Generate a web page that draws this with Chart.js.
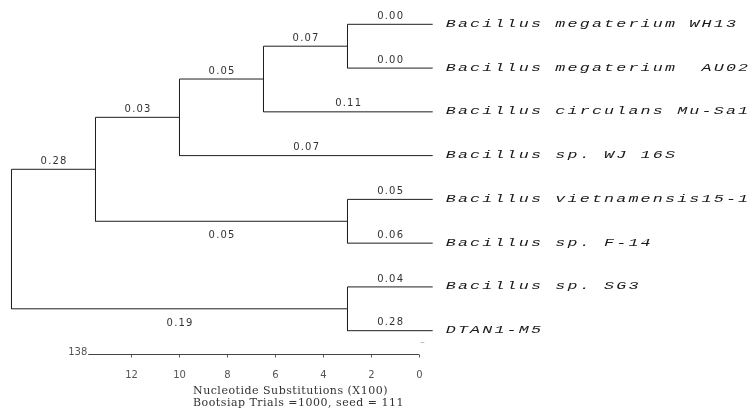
<!DOCTYPE html>
<html>
<head>
<meta charset="utf-8">
<script src="https://cdn.jsdelivr.net/npm/chart.js@4.4.1/dist/chart.umd.min.js"></script>
<style>
  html, body { margin: 0; padding: 0; background: #fff; }
  #wrap { width: 755px; height: 412px; }
</style>
</head>
<body>
<div id="wrap"><canvas id="treeChart"></canvas></div>
<script>
// tree: internal nodes first, then the leaves from top to bottom
const nodeIds = ['root', 'n1', 'n2', 'n3', 'n4', 'n5', 'n6',
  'L1', 'L2', 'L3', 'L4', 'L5', 'L6', 'L7', 'L8'];
const parentIds = [null, 'root', 'n1', 'n2', 'n3', 'n1', 'root',
  'n4', 'n4', 'n3', 'n2', 'n5', 'n5', 'n6', 'n6'];
// node depth in scale-bar units (0 = right end of the bar)
const nodeDepth = [17.0, 13.5, 10.0, 6.5, 3.0, 3.0, 3.0,
  -0.55, -0.55, -0.55, -0.55, -0.55, -0.55, -0.55, -0.55];
const branchLabels = [null, '0.28', '0.03', '0.05', '0.07', '0.05', '0.19',
  '0.00', '0.00', '0.11', '0.07', '0.05', '0.06', '0.04', '0.28'];
const leafNames = ['Bacillus megaterium WH13', 'Bacillus megaterium  AU02',
  'Bacillus circulans Mu-Sa1', 'Bacillus sp. WJ 16S', 'Bacillus vietnamensis15-1',
  'Bacillus sp. F-14', 'Bacillus sp. SG3', 'DTAN1-M5'];
const scaleTicks = [0, 2, 4, 6, 8, 10, 12];
const scaleBarLength = 13.8;
const scaleBarLabel = '138';
const axisTitle = ['Nucleotide Substitutions (X100)', 'Bootsiap Trials =1000, seed = 111'];

// these two branch labels sit under their branch
const labelsBelow = ['n5', 'n6'];
const Y_MIN = -0.327, Y_MAX = 7.544;
const X_MIN = -6.6875, X_MAX = 17.479;

// y of every node: leaves by row, internal nodes halfway between children
const nodeY = nodeIds.map(() => null);
function layoutY(id) {
  const i = nodeIds.indexOf(id);
  if (id[0] === 'L') {
    nodeY[i] = i - nodeIds.indexOf('L1');
    return nodeY[i];
  }
  const kids = nodeIds.filter((_, k) => parentIds[k] === id).map(layoutY);
  nodeY[i] = (Math.min(...kids) + Math.max(...kids)) / 2;
  return nodeY[i];
}
layoutY('root');

const lineColor = '#1e1e1e';
const datasets = [];
nodeIds.forEach((id, i) => {
  if (!parentIds[i]) return;
  const p = nodeIds.indexOf(parentIds[i]);
  datasets.push({
    data: [
      {x: nodeDepth[p], y: nodeY[p]},
      {x: nodeDepth[p], y: nodeY[i]},
      {x: nodeDepth[i], y: nodeY[i]}
    ],
    borderColor: lineColor
  });
});
// scale bar
datasets.push({
  data: [{x: scaleBarLength, y: Y_MAX}, {x: 0, y: Y_MAX}],
  borderColor: '#444',
  clip: false
});

const treeText = {
  id: 'treeText',
  afterDatasetsDraw(chart) {
    const {ctx, scales: {x, y}} = chart;
    ctx.save();

    // branch lengths
    ctx.font = '10px "DejaVu Sans"';
    ctx.letterSpacing = '1.2px';
    ctx.fillStyle = '#333';
    ctx.textAlign = 'center';
    ctx.textBaseline = 'middle';
    nodeIds.forEach((id, i) => {
      if (!branchLabels[i]) return;
      const p = nodeIds.indexOf(parentIds[i]);
      const mx = (x.getPixelForValue(nodeDepth[p]) + x.getPixelForValue(nodeDepth[i])) / 2;
      const py = y.getPixelForValue(nodeY[i]);
      ctx.fillText(branchLabels[i], mx + 0.6, labelsBelow.includes(id) ? py + 14.5 : py - 8);
    });

    // leaf names: wide, stretched typewriter look
    ctx.font = 'italic 11.5px "Liberation Mono"';
    ctx.letterSpacing = '1.5px';
    ctx.fillStyle = '#1a1a1a';
    ctx.textAlign = 'left';
    leafNames.forEach((name, k) => {
      const i = nodeIds.indexOf('L' + (k + 1));
      const lx = x.getPixelForValue(nodeDepth[i]) + 13;
      ctx.save();
      ctx.translate(lx, y.getPixelForValue(nodeY[i]) - 0.5);
      ctx.scale(1.45, 1);
      ctx.fillText(name, 0, 0);
      ctx.restore();
    });

    // scale bar label and the small mark above its end
    ctx.letterSpacing = '0px';
    ctx.font = '10px "DejaVu Sans"';
    ctx.fillStyle = '#555';
    ctx.textAlign = 'right';
    ctx.fillText(scaleBarLabel, x.getPixelForValue(scaleBarLength) - 1, y.bottom - 2.5);
    ctx.textAlign = 'center';
    ctx.fillStyle = '#999';
    ctx.font = '9px "DejaVu Sans"';
    ctx.fillText('–', x.getPixelForValue(0) + 3, y.bottom - 11.5);

    // axis caption, left aligned
    ctx.font = '11px "DejaVu Serif"';
    ctx.letterSpacing = '0.5px';
    ctx.fillStyle = '#333';
    ctx.textAlign = 'left';
    axisTitle.forEach((line, k) => {
      ctx.fillText(line, x.left + 193, 391 + k * 12.5);
    });
    ctx.restore();
  }
};

new Chart(document.getElementById('treeChart'), {
  type: 'scatter',
  data: {datasets: datasets},
  options: {
    responsive: true,
    maintainAspectRatio: false,
    animation: false,
    showLine: true,
    elements: {
      point: {radius: 0, hoverRadius: 0},
      line: {borderWidth: 1, tension: 0}
    },
    layout: {padding: {top: 10, left: 0, right: 175, bottom: 0}},
    scales: {
      x: {
        type: 'linear',
        reverse: true,
        min: X_MIN,
        max: X_MAX,
        afterBuildTicks: s => { s.ticks = scaleTicks.map(v => ({value: v})); },
        afterFit: s => { s.height = 57.5; },
        border: {display: false},
        grid: {drawOnChartArea: false, drawTicks: true, tickLength: 3, color: '#555'},
        ticks: {
          padding: 12,
          color: '#555',
          font: {family: 'DejaVu Sans', size: 10},
          maxRotation: 0,
          autoSkip: false
        }
      },
      y: {
        type: 'linear',
        display: false,
        reverse: true,
        min: Y_MIN,
        max: Y_MAX
      }
    },
    plugins: {
      legend: {display: false},
      tooltip: {enabled: false}
    }
  },
  plugins: [treeText]
});
</script>
</body>
</html>
